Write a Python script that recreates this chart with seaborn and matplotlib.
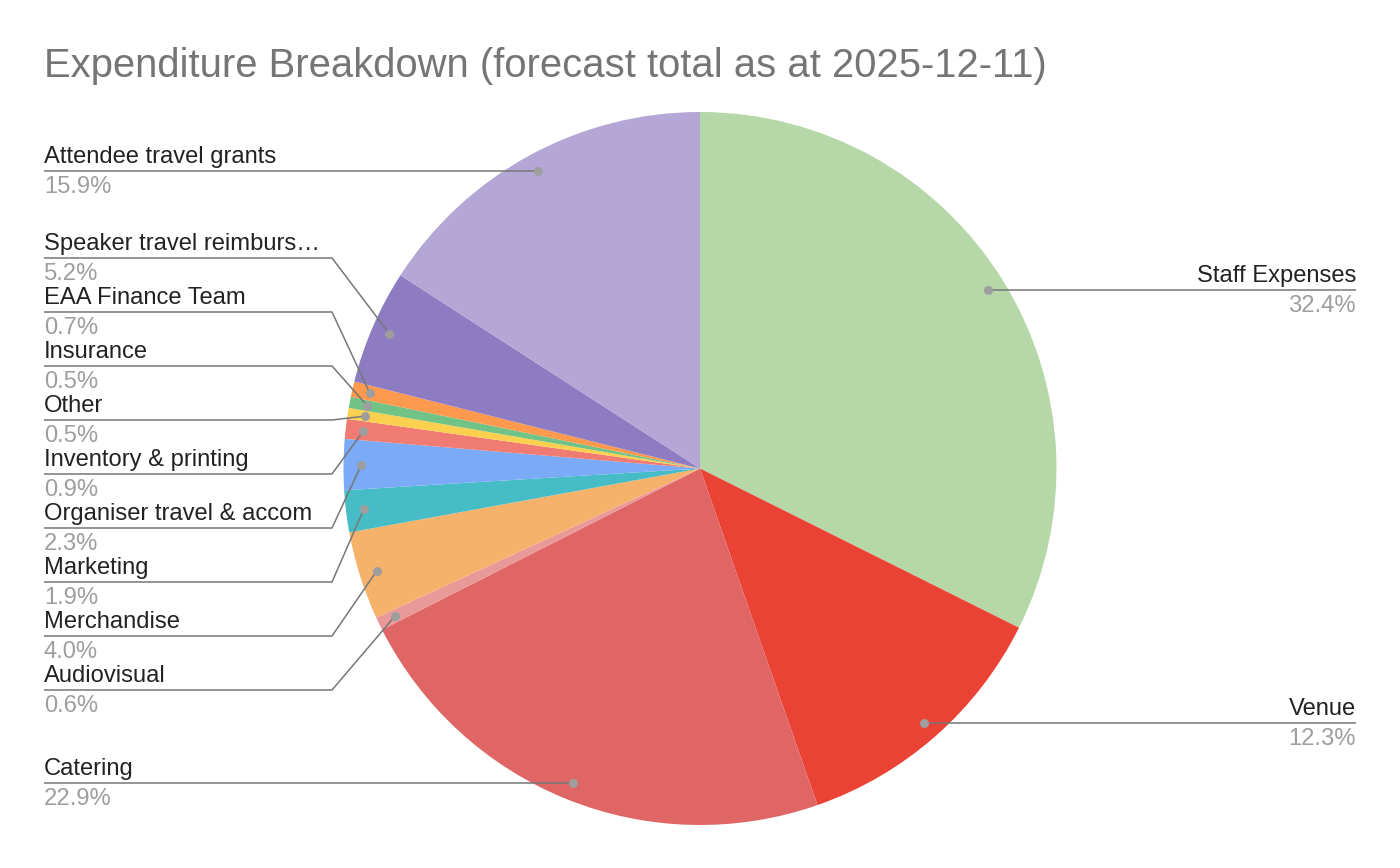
import numpy as np
import matplotlib.pyplot as plt
import seaborn as sns

# slices in clockwise order starting at 12 o'clock
categories = ['Staff Expenses', 'Venue', 'Catering', 'Audiovisual', 'Merchandise',
              'Marketing', 'Organiser travel & accom', 'Inventory & printing', 'Other',
              'Insurance', 'EAA Finance Team', 'Speaker travel reimburs\u2026',
              'Attendee travel grants']
shares = [32.4, 12.3, 22.9, 0.6, 4.0, 1.9, 2.3, 0.9, 0.5, 0.5, 0.7, 5.2, 15.9]
title = 'Expenditure Breakdown (forecast total as at 2025-12-11)'

colors = ['#b6d7a8', '#ea4335', '#e06666', '#ea9999', '#f6b26b', '#46bdc6', '#7baaf7',
          '#f07b72', '#fcd04f', '#71c287', '#ff994d', '#8e7cc3', '#b4a7d6']

# layout (pixels from the top-left); None = label sits level with its dot
label_side = ['right', 'right', 'left', 'left', 'left', 'left', 'left', 'left', 'left',
              'left', 'left', 'left', 'left']
label_line_y = [None, None, None, 690, 636, 582, 528, 474, 420, 366, 312, 258, None]

W, H = 1400, 868
CX, CY, R = 700, 468.5, 356.5
LEFT_X, RIGHT_X, ELBOW_X = 44, 1356, 332

sns.set_theme(style='white')
plt.rcParams['font.family'] = ['Liberation Sans', 'DejaVu Sans']

fig = plt.figure(figsize=(W / 100, H / 100), dpi=100)
ax = fig.add_axes([0, 0, 1, 1])

wedges, _ = ax.pie(shares, colors=colors, startangle=90, counterclock=False,
                   center=(CX, H - CY), radius=R,
                   wedgeprops=dict(linewidth=0))
ax.set_xlim(0, W)
ax.set_ylim(0, H)
ax.axis('off')

line_col = '#777777'
for w, name, share, side, ly in zip(wedges, categories, shares, label_side, label_line_y):
    mid = np.deg2rad((w.theta1 + w.theta2) / 2)
    dx = w.center[0] + 0.95 * w.r * np.cos(mid)
    dy = w.center[1] + 0.95 * w.r * np.sin(mid)
    y = dy if ly is None else H - ly
    if side == 'left':
        if ly is None:
            xs, ys = [LEFT_X, dx], [y, dy]
        else:
            xs, ys = [LEFT_X, ELBOW_X, dx], [y, y, dy]
        tx, ha = LEFT_X, 'left'
    else:
        xs, ys = [dx, RIGHT_X], [dy, y]
        tx, ha = RIGHT_X, 'right'
    ax.plot(xs, ys, color=line_col, lw=1.1, solid_capstyle='butt', zorder=3)
    ax.plot(dx, dy, 'o', color='#9e9e9e', ms=6.5, mew=0, zorder=4)
    ax.text(tx, y + 8, name, ha=ha, va='baseline', fontsize=17.1, color='#222222')
    ax.text(tx, y - 22, f'{share:.1f}%', ha=ha, va='baseline', fontsize=17.1, color='#9e9e9e')

ax.text(LEFT_X, H - 77, title, ha='left', va='baseline', fontsize=28.8, color='#757575')

fig.savefig('out.png', dpi=100, facecolor='white')
